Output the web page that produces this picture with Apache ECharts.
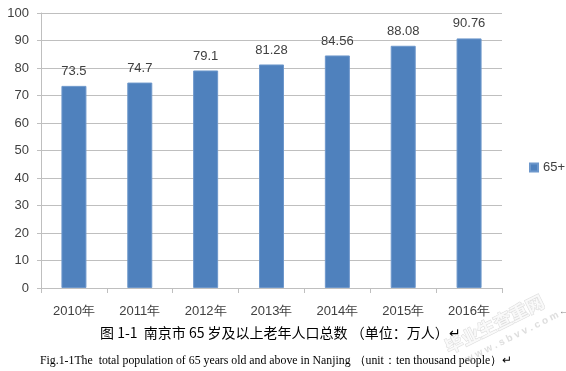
<!DOCTYPE html>
<html><head><meta charset="utf-8">
<script src="https://cdn.jsdelivr.net/npm/echarts@6/dist/echarts.min.js"></script>
<style>html,body{margin:0;padding:0;background:#fff}#c{width:566px;height:371px}</style>
</head><body><div id="c"></div>
<script>
const categories = ['2010年','2011年','2012年','2013年','2014年','2015年','2016年'];
const values65 = [73.5, 74.7, 79.1, 81.28, 84.56, 88.08, 90.76];
const labels65 = ['73.5','74.7','79.1','81.28','84.56','88.08','90.76'];
const seriesName = '65+';
const captionCN = '图 1-1  南京市 65 岁及以上老年人口总数 （单位：万人）↵';
const captionEN = 'Fig.1-1The  total population of 65 years old and above in Nanjing （unit：ten thousand people）↵';

const chart = echarts.init(document.getElementById('c'));
const txt = '#404040';
const font = 'Liberation Sans, Arial, sans-serif';
chart.setOption({
  animation: false,
  backgroundColor: '#fff',
  grid: {left: 41, right: 64, top: 13, bottom: 83},
  legend: {
    data: [seriesName], left: 524, top: 156, orient: 'vertical',
    icon: 'rect', itemWidth: 8, itemHeight: 8, itemGap: 4,
    textStyle: {color: txt, fontSize: 13, fontFamily: font}
  },
  xAxis: {
    type: 'category', data: categories,
    axisLine: {lineStyle: {color: '#bfbfbf'}},
    axisTick: {show: true, length: 5, lineStyle: {color: '#bfbfbf'}},
    axisLabel: {color: txt, fontSize: 13, fontFamily: font, margin: 17}
  },
  yAxis: {
    type: 'value', min: 0, max: 100, interval: 10,
    axisLine: {show: true, lineStyle: {color: '#bfbfbf'}},
    axisTick: {show: true, length: 4, lineStyle: {color: '#bfbfbf'}},
    splitLine: {lineStyle: {color: '#bfbfbf'}},
    axisLabel: {color: txt, fontSize: 13, fontFamily: font, margin: 12}
  },
  series: [{
    name: seriesName, type: 'bar', data: values65, barWidth: 25,
    itemStyle: {color: '#4f81bd', borderColor: '#6d97cb', borderWidth: 1},
    label: {
      show: true, position: 'top', distance: 8, color: txt, fontSize: 13, fontFamily: font,
      formatter: p => labels65[p.dataIndex]
    }
  }],
  graphic: [
    {type: 'text', left: 100, top: 326, style: {text: captionCN, fill: '#000', font: '14px "Noto Sans CJK SC", sans-serif'}},
    {type: 'text', left: 40, top: 355, style: {text: captionEN, fill: '#000', font: '11.8px "Liberation Serif", serif'}},
    {type: 'text', left: 559, top: 307, style: {text: '←', fill: '#888', font: '9px sans-serif'}},
    {type: 'text', x: 446, y: 348, rotation: 0.46, style: {text: '毕业生查重网', fill: 'rgba(250,250,250,0.9)', stroke: 'rgba(195,195,195,0.6)', lineWidth: 1, font: 'bold 18px "Noto Sans CJK SC", sans-serif', textVerticalAlign: 'middle'}},
    {type: 'text', x: 466, y: 360, rotation: 0.46, style: {text: 'w w w . s b v v . c o m', fill: 'rgba(190,190,190,0.5)', font: 'bold 10px "Liberation Sans", sans-serif', textVerticalAlign: 'middle'}}
  ]
});
</script></body></html>
